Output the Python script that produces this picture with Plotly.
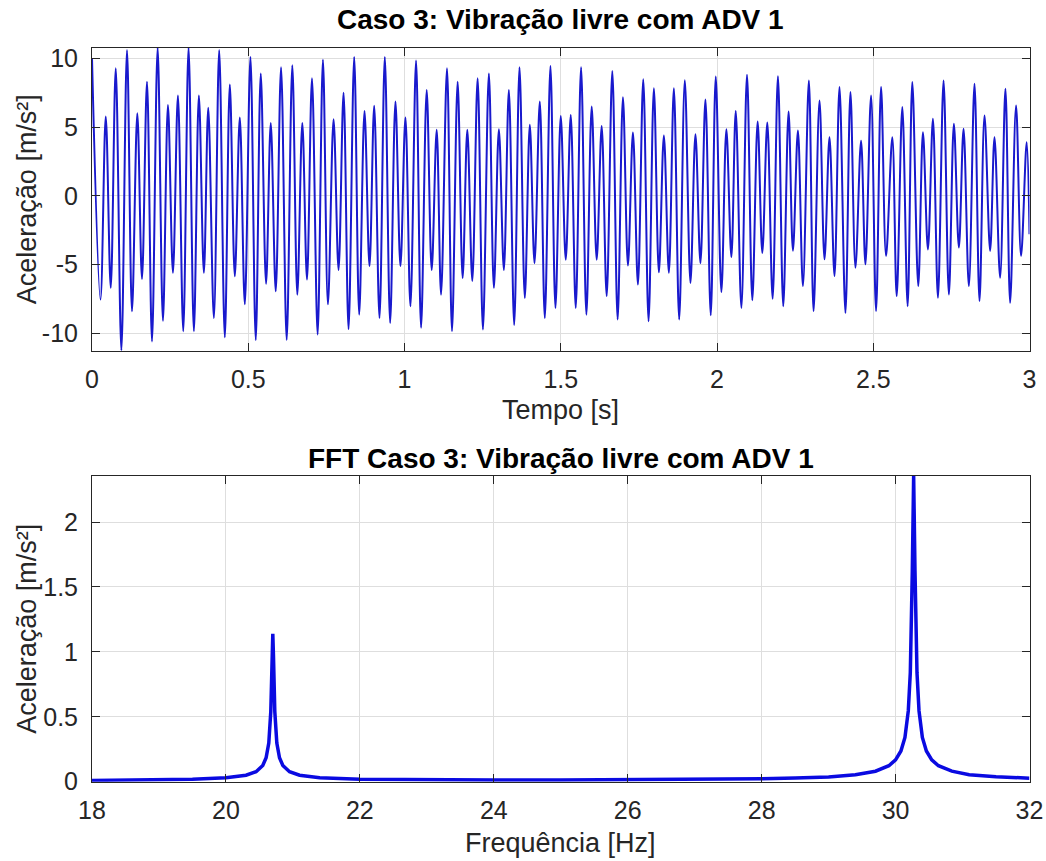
import plotly.graph_objects as go

# ---------------- data ----------------
# Time signal: successive local extrema (time [s], acceleration [m/s^2])
t_ext = [0.000, 0.027, 0.044, 0.060, 0.076, 0.094, 0.112, 0.128, 0.145, 0.160, 0.176, 0.192,
         0.210, 0.227, 0.243, 0.259, 0.275, 0.292, 0.309, 0.326, 0.342, 0.358, 0.372, 0.390, 0.407,
         0.425, 0.441, 0.457, 0.473, 0.489, 0.507, 0.524, 0.540, 0.557, 0.572, 0.588, 0.605, 0.623,
         0.641, 0.657, 0.673, 0.688, 0.704, 0.722, 0.739, 0.755, 0.773, 0.789, 0.805, 0.821, 0.839,
         0.855, 0.872, 0.888, 0.903, 0.920, 0.937, 0.954, 0.971, 0.987, 1.003, 1.019, 1.037, 1.053,
         1.071, 1.087, 1.103, 1.117, 1.136, 1.152, 1.170, 1.186, 1.201, 1.217, 1.234, 1.251, 1.270,
         1.286, 1.302, 1.318, 1.334, 1.351, 1.368, 1.385, 1.401, 1.416, 1.433, 1.449, 1.467, 1.483,
         1.500, 1.516, 1.532, 1.548, 1.565, 1.582, 1.599, 1.615, 1.631, 1.647, 1.665, 1.682, 1.699,
         1.715, 1.731, 1.747, 1.764, 1.781, 1.798, 1.814, 1.830, 1.846, 1.862, 1.879, 1.897, 1.915,
         1.931, 1.947, 1.963, 1.980, 1.996, 2.014, 2.030, 2.046, 2.060, 2.078, 2.096, 2.113, 2.130,
         2.145, 2.161, 2.178, 2.195, 2.212, 2.229, 2.243, 2.259, 2.275, 2.294, 2.309, 2.328, 2.344,
         2.360, 2.376, 2.392, 2.411, 2.427, 2.443, 2.461, 2.475, 2.493, 2.509, 2.525, 2.541, 2.561,
         2.575, 2.593, 2.610, 2.625, 2.644, 2.659, 2.675, 2.691, 2.707, 2.725, 2.742, 2.758, 2.774,
         2.789, 2.806, 2.824, 2.840, 2.856, 2.874, 2.888, 2.906, 2.923, 2.938, 2.957, 2.973, 2.991,
         3.000]
a_ext = [10.0, -7.55, 5.76, -6.7, 9.27, -11.25, 10.6, -8.4, 6.0, -6.05, 8.3, -10.6,
         10.77, -9.1, 6.6, -5.6, 7.3, -9.85, 10.77, -9.85, 7.3, -5.6, 6.4, -8.9, 10.6,
         -10.3, 8.1, -5.86, 5.7, -7.9, 10.1, -10.5, 8.9, -6.4, 5.3, -6.95, 9.35, -10.5,
         9.5, -7.2, 5.3, -6.1, 8.55, -10.1, 9.9, -7.9, 5.57, -5.4, 7.5, -9.7, 10.1,
         -8.65, 6.17, -5.13, 6.54, -8.9, 10.1, -9.25, 6.85, -5.13, 5.7, -8.04, 9.83, -9.6,
         7.7, -5.4, 4.8, -7.2, 9.27, -9.85, 8.3, -5.98, 4.8, -6.2, 8.55, -9.73, 8.9,
         -6.7, 4.84, -5.4, 7.7, -9.4, 9.35, -7.43, 5.16, -4.9, 6.85, -8.9, 9.44, -8.16,
         5.8, -4.65, 5.88, -8.16, 9.35, -8.65, 6.49, -4.65, 5.08, -7.3, 9.08, -9.0, 7.17,
         -5.08, 4.6, -6.46, 8.47, -9.13, 7.82, -5.57, 4.38, -5.6, 7.82, -9.0, 8.4, -6.34,
         4.48, -4.9, 7.0, -8.7, 8.67, -7.0, 4.84, -4.46, 6.17, -8.16, 8.8, -7.6, 5.4,
         -4.16, 5.33, -7.5, 8.7, -8.04, 6.13, -4.0, 4.74, -6.57, 8.39, -8.39, 6.93, -4.62,
         4.26, -5.84, 7.91, -8.52, 7.54, -5.23, 4.0, -4.99, 7.3, -8.39, 7.91, -4.38, 4.26,
         -7.3, 6.45, -8.03, 8.27, -6.57, 4.62, -3.9, 5.6, -7.42, 8.39, -7.18, 5.23, -3.77,
         4.87, -6.57, 8.15, -7.66, 5.84, -4.01, 4.26, -5.96, 7.79, -7.79, 6.57, -4.38, 3.89,
         -2.8]

# FFT magnitude (frequency [Hz], amplitude [m/s^2])
f_fft = [18.0, 19.0, 19.5, 20.0, 20.3, 20.45, 20.55, 20.6, 20.64, 20.67, 20.69, 20.70, 20.71,
         20.73, 20.76, 20.80, 20.85, 20.95, 21.1, 21.4, 22.0, 23.0, 24.0, 25.0, 26.0, 27.0,
         28.0, 28.5, 29.0, 29.4, 29.7, 29.9, 30.0, 30.08, 30.14, 30.19, 30.22, 30.25, 30.27,
         30.29, 30.32, 30.35, 30.40, 30.46, 30.54, 30.64, 30.84, 31.1, 31.5, 32.0]
a_fft = [0.010, 0.015, 0.019, 0.030, 0.050, 0.077, 0.125, 0.184, 0.298, 0.54, 0.967, 1.14, 0.967,
         0.54, 0.298, 0.184, 0.125, 0.077, 0.050, 0.031, 0.019, 0.014, 0.013, 0.013, 0.014, 0.017,
         0.022, 0.028, 0.037, 0.054, 0.081, 0.123, 0.168, 0.237, 0.341, 0.545, 0.838, 1.625, 2.36,
         1.625, 0.838, 0.545, 0.341, 0.237, 0.168, 0.123, 0.081, 0.054, 0.038, 0.027]

# axis ticks
t_ticks = [0, 0.5, 1, 1.5, 2, 2.5, 3]
t_ticktext = ["0", "0.5", "1", "1.5", "2", "2.5", "3"]
acc_ticks = [-10, -5, 0, 5, 10]
acc_ticktext = ["-10", "-5", "0", "5", "10"]
f_ticks = [18, 20, 22, 24, 26, 28, 30, 32]
f_ticktext = ["18", "20", "22", "24", "26", "28", "30", "32"]
fft_ticks = [0, 0.5, 1, 1.5, 2]
fft_ticktext = ["0", "0.5", "1", "1.5", "2"]

title_top = "Caso 3: Vibração livre com ADV 1"
title_bot = "FFT Caso 3: Vibração livre com ADV 1"
xlabel_top = "Tempo [s]"
xlabel_bot = "Frequência [Hz]"
ylabel = "Aceleração [m/s²]"

# ---------------- figure ----------------
W, H = 1046, 861
FONT = "Liberation Sans, Arial, Helvetica, sans-serif"
TXT = "#262626"
GRID = "#dedede"

# pixel geometry of the two axes boxes
x0_px, x1_px = 92, 1029.5
top_px = (47.7, 350.7)
bot_px = (476.0, 781.7)


def py(p):
    return 1 - p / H


fig = go.Figure()
fig.add_trace(go.Scatter(x=t_ext, y=a_ext, mode="lines",
                         line=dict(color="rgb(25,25,205)", width=2, shape="spline", smoothing=1),
                         xaxis="x", yaxis="y", showlegend=False, hoverinfo="skip"))
fig.add_trace(go.Scatter(x=f_fft, y=a_fft, mode="lines",
                         line=dict(color="rgb(10,10,225)", width=3.5),
                         xaxis="x2", yaxis="y2", showlegend=False, hoverinfo="skip"))

axis_common = dict(showline=True, linecolor=TXT, linewidth=1, mirror="ticks",
                   ticks="inside", ticklen=8, tickcolor=TXT, tickwidth=1,
                   showgrid=True, gridcolor=GRID, gridwidth=1, zeroline=False,
                   automargin=False,
                   tickfont=dict(family=FONT, size=25, color=TXT))

dom_x = [x0_px / W, x1_px / W]
fig.update_layout(
    template="none",
    width=W, height=H,
    margin=dict(l=0, r=0, t=0, b=0),
    paper_bgcolor="white", plot_bgcolor="white",
    xaxis=dict(domain=dom_x, anchor="y", range=[0, 3], tickvals=t_ticks, ticktext=t_ticktext,
               ticklabelstandoff=6, **axis_common),
    yaxis=dict(domain=[py(top_px[1]), py(top_px[0])], anchor="x", range=[-11.27, 10.77],
               tickvals=acc_ticks, ticktext=acc_ticktext, ticklabelstandoff=8, **axis_common),
    xaxis2=dict(domain=dom_x, anchor="y2", range=[18, 32], tickvals=f_ticks, ticktext=f_ticktext,
                ticklabelstandoff=6, **axis_common),
    yaxis2=dict(domain=[py(bot_px[1]), py(bot_px[0])], anchor="x2", range=[0, 2.355],
                tickvals=fft_ticks, ticktext=fft_ticktext, ticklabelstandoff=8, **axis_common),
)

cx = ((x0_px + x1_px) / 2) / W
ann = [
    dict(text=f"<b>{title_top}</b>", x=cx, y=py(19), font=dict(family=FONT, size=28, color="black")),
    dict(text=f"<b>{title_bot}</b>", x=cx, y=py(459), font=dict(family=FONT, size=28, color="black")),
    dict(text=xlabel_top, x=cx, y=py(410), font=dict(family=FONT, size=27, color=TXT)),
    dict(text=xlabel_bot, x=cx, y=py(843), font=dict(family=FONT, size=27, color=TXT)),
    dict(text=ylabel, x=27 / W, y=py((top_px[0] + top_px[1]) / 2), textangle=-90,
         font=dict(family=FONT, size=27, color=TXT)),
    dict(text=ylabel, x=27 / W, y=py((bot_px[0] + bot_px[1]) / 2), textangle=-90,
         font=dict(family=FONT, size=27, color=TXT)),
]
for a in ann:
    a.update(xref="paper", yref="paper", showarrow=False, xanchor="center", yanchor="middle")
fig.update_layout(annotations=ann)

fig.write_html("out.html",
               config={"displayModeBar": False},
               post_script="document.body.style.margin='0';document.body.style.overflow='hidden';")
